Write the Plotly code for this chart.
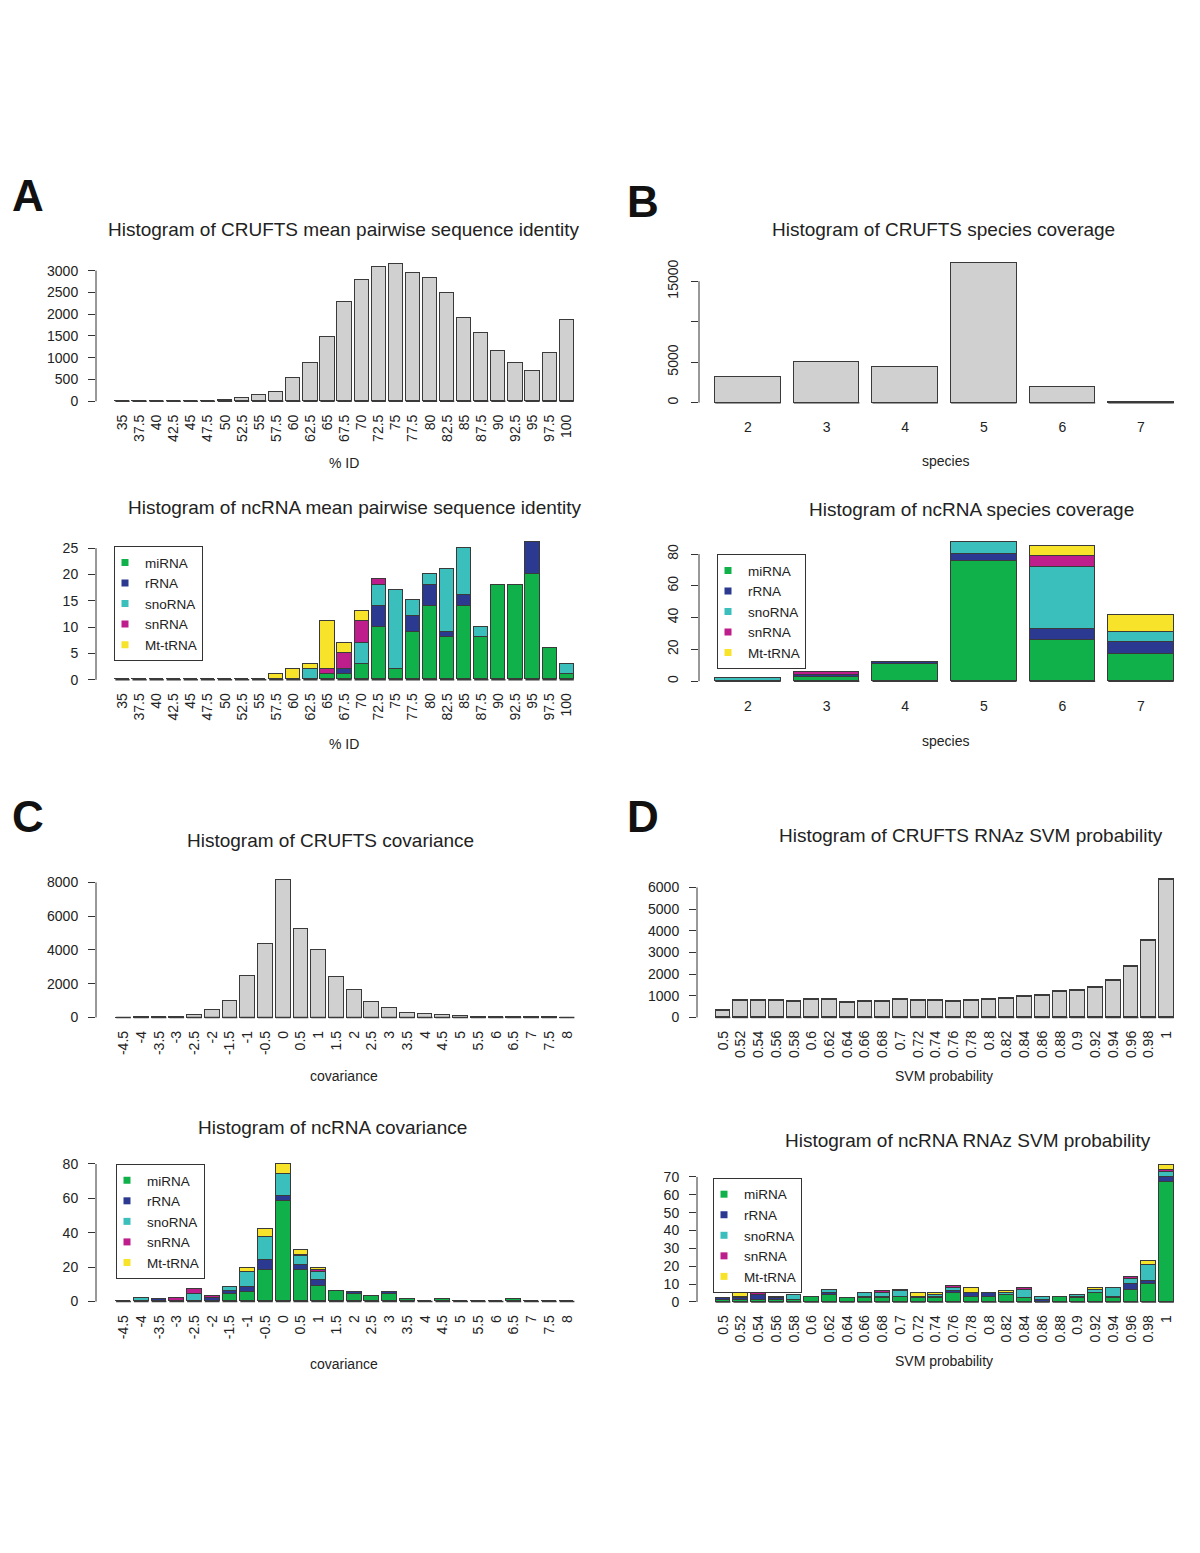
import plotly.graph_objects as go

W, H = 1200, 1553
FONT = "Liberation Sans, Arial, Helvetica, sans-serif"
EDGE = "#3a3a3a"
AXIS = "#333333"
TXT = "#222222"
GRAY = "#d0d0d0"
C_MI = "#10b14b"
C_R = "#2b3990"
C_SNO = "#3bbfbd"
C_SN = "#bd1e8c"
C_MT = "#f7e42a"

# ---------------- data ----------------
identity_labels = ["35", "37.5", "40", "42.5", "45", "47.5", "50", "52.5", "55", "57.5", "60", "62.5",
                   "65", "67.5", "70", "72.5", "75", "77.5", "80", "82.5", "85", "87.5", "90", "92.5",
                   "95", "97.5", "100"]
crufts_identity = [5, 5, 5, 8, 15, 20, 40, 70, 137, 220, 533, 884, 1485, 2285, 2787, 3077, 3168, 2947,
                   2840, 2490, 1926, 1577, 1158, 891, 708, 1120, 1866]
id_miRNA = [0, 0, 0, 0, 0, 0, 0, 0, 0, 0, 0, 0, 1, 1, 3, 10, 2, 9, 14, 8, 14, 8, 18, 18, 20, 6, 1]
id_rRNA = [0, 0, 0, 0, 0, 0, 0, 0, 0, 0, 0, 0, 0, 1, 0, 4, 0, 3, 4, 1, 2, 0, 0, 0, 6, 0, 0]
id_snoRNA = [0, 0, 0, 0, 0, 0, 0, 0, 0, 0, 0, 2, 0, 0, 4, 4, 15, 3, 2, 12, 9, 2, 0, 0, 0, 0, 2]
id_snRNA = [0, 0, 0, 0, 0, 0, 0, 0, 0, 0, 0, 0, 1, 3, 4, 1, 0, 0, 0, 0, 0, 0, 0, 0, 0, 0, 0]
id_MttRNA = [0, 0, 0, 0, 0, 0, 0, 0, 0, 1, 2, 1, 9, 2, 2, 0, 0, 0, 0, 0, 0, 0, 0, 0, 0, 0, 0]

species_labels = ["2", "3", "4", "5", "6", "7"]
crufts_species = [3200, 5000, 4470, 17340, 1930, 160]
sp_miRNA = [0, 3, 11, 76, 26, 17]
sp_rRNA = [0, 1, 1, 4, 7, 8]
sp_snoRNA = [2, 0, 0, 8, 39, 6]
sp_snRNA = [0, 2, 0, 0, 7, 0]
sp_MttRNA = [0, 0, 0, 0, 6, 11]

cov_labels = ["-4.5", "-4", "-3.5", "-3", "-2.5", "-2", "-1.5", "-1", "-0.5", "0", "0.5", "1", "1.5",
              "2", "2.5", "3", "3.5", "4", "4.5", "5", "5.5", "6", "6.5", "7", "7.5", "8"]
crufts_cov = [10, 15, 25, 50, 150, 430, 1000, 2475, 4380, 8190, 5285, 4010, 2435, 1670, 925, 550, 295,
              195, 140, 80, 60, 40, 25, 20, 15, 10]
cov_miRNA = [0, 0, 0, 0, 0, 0, 4, 5, 18, 58, 18, 9, 6, 4, 3, 4, 1, 0, 1, 0, 0, 0, 1, 0, 0, 0]
cov_rRNA = [0, 0, 1, 0, 0, 2, 2, 3, 6, 3, 3, 3, 0, 1, 0, 1, 0, 0, 0, 0, 0, 0, 0, 0, 0, 0]
cov_snoRNA = [0, 2, 0, 0, 4, 0, 2, 9, 13, 13, 5, 5, 0, 0, 0, 0, 0, 0, 0, 0, 0, 0, 0, 0, 0, 0]
cov_snRNA = [0, 0, 0, 2, 3, 1, 0, 0, 0, 0, 1, 1, 0, 0, 0, 0, 0, 0, 0, 0, 0, 0, 0, 0, 0, 0]
cov_MttRNA = [0, 0, 0, 0, 0, 0, 0, 2, 5, 6, 3, 1, 0, 0, 0, 0, 0, 0, 0, 0, 0, 0, 0, 0, 0, 0]

svm_labels = ["0.5", "0.52", "0.54", "0.56", "0.58", "0.6", "0.62", "0.64", "0.66", "0.68", "0.7",
              "0.72", "0.74", "0.76", "0.78", "0.8", "0.82", "0.84", "0.86", "0.88", "0.9", "0.92",
              "0.94", "0.96", "0.98", "1"]
crufts_svm = [340, 796, 765, 780, 750, 810, 810, 690, 750, 750, 810, 796, 796, 720, 796, 842, 888, 950,
              995, 1180, 1255, 1394, 1715, 2328, 3568, 6386]
svm_miRNA = [1, 1, 1, 1, 1, 3, 4, 2, 2, 2, 3, 2, 2, 5, 3, 3, 4, 2, 0, 3, 2, 5, 2, 7, 10, 67]
svm_rRNA = [1, 1, 3, 1, 0, 0, 1, 0, 1, 1, 0, 1, 1, 1, 2, 2, 0, 0, 1, 0, 1, 0, 1, 3, 2, 3]
svm_snoRNA = [0, 1, 0, 0, 3, 0, 2, 0, 2, 2, 3, 0, 1, 2, 0, 0, 1, 5, 2, 0, 1, 2, 5, 3, 9, 3]
svm_snRNA = [0, 0, 1, 0, 0, 0, 0, 0, 0, 1, 0, 0, 0, 1, 0, 0, 0, 1, 0, 0, 0, 0, 0, 1, 0, 1]
svm_MttRNA = [0, 2, 0, 1, 0, 0, 0, 0, 0, 0, 1, 2, 1, 0, 3, 0, 1, 0, 0, 0, 0, 1, 0, 0, 2, 3]

type_names = ["miRNA", "rRNA", "snoRNA", "snRNA", "Mt-tRNA"]
type_colors = [C_MI, C_R, C_SNO, C_SN, C_MT]

# ---------------- panel layout (pixel geometry) ----------------
panels = [
    dict(labels=identity_labels, series=[crufts_identity], xang=-90,
         cf=122.5, cl=566.7, ax=96, y0=400.3, vt=3000, vtp=269, yt=[0, 500, 1000, 1500, 2000, 2500, 3000],
         title="Histogram of CRUFTS mean pairwise sequence identity", tx=343, ty=228,
         xt="% ID", xtx=344, xty=462, so=7),
    dict(labels=identity_labels, series=[id_miRNA, id_rRNA, id_snoRNA, id_snRNA, id_MttRNA], xang=-90,
         cf=122.5, cl=566.7, ax=96, y0=680.3, vt=25, vtp=548, yt=[0, 5, 10, 15, 20, 25],
         title="Histogram of ncRNA mean pairwise sequence identity", tx=355, ty=507,
         xt="% ID", xtx=344, xty=745, so=7, leg=(114, 546)),
    dict(labels=species_labels, series=[crufts_species], xang=0,
         cf=748, cl=1141, ax=699, y0=401.7, vt=15000, vtp=279.7, yt=[0, 5000, 10000, 15000],
         ytext=["0", "5000", "", "15000"], yang=-90,
         title="Histogram of CRUFTS species coverage", tx=943, ty=228,
         xt="species", xtx=945, xty=460, so=12),
    dict(labels=species_labels, series=[sp_miRNA, sp_rRNA, sp_snoRNA, sp_snRNA, sp_MttRNA], xang=0,
         cf=748, cl=1141, ax=699, y0=681.7, vt=80, vtp=554, yt=[0, 20, 40, 60, 80], yang=-90,
         title="Histogram of ncRNA species coverage", tx=971, ty=509,
         xt="species", xtx=945, xty=742, so=12, leg=(717, 554)),
    dict(labels=cov_labels, series=[crufts_cov], xang=-90,
         cf=123.5, cl=567, ax=96, y0=1019.7, vt=8000, vtp=884, yt=[0, 2000, 4000, 6000, 8000],
         title="Histogram of CRUFTS covariance", tx=330, ty=842,
         xt="covariance", xtx=344, xty=1079, so=7),
    dict(labels=cov_labels, series=[cov_miRNA, cov_rRNA, cov_snoRNA, cov_snRNA, cov_MttRNA], xang=-90,
         cf=123.5, cl=567, ax=96, y0=1305.3, vt=80, vtp=1167, yt=[0, 20, 40, 60, 80],
         title="Histogram of ncRNA covariance", tx=332, ty=1130,
         xt="covariance", xtx=344, xty=1368, so=7, leg=(116, 1167)),
    dict(labels=svm_labels, series=[crufts_svm], xang=-90,
         cf=723, cl=1166.5, ax=697, y0=1019.7, vt=6000, vtp=889,
         yt=[0, 1000, 2000, 3000, 4000, 5000, 6000],
         title="Histogram of CRUFTS RNAz SVM probability", tx=971, ty=837,
         xt="SVM probability", xtx=944, xty=1079, so=7),
    dict(labels=svm_labels, series=[svm_miRNA, svm_rRNA, svm_snoRNA, svm_snRNA, svm_MttRNA], xang=-90,
         cf=723, cl=1166.5, ax=697, y0=1305.7, vt=70, vtp=1180, yt=[0, 10, 20, 30, 40, 50, 60, 70],
         title="Histogram of ncRNA RNAz SVM probability", tx=968, ty=1143,
         xt="SVM probability", xtx=944, xty=1365, so=7, leg=(713, 1181)),
]

letters = [("A", 28, 193), ("B", 643, 200), ("C", 28, 818), ("D", 643, 818)]

fig = go.Figure()
layout = dict(width=W, height=H, margin=dict(l=0, r=0, t=0, b=0), paper_bgcolor="white",
              plot_bgcolor="white", barmode="stack", bargap=0, showlegend=True,
              font=dict(family=FONT, color=TXT), annotations=[], shapes=[])

BW = 1 / 1.2
leg_count = 0
for k, p in enumerate(panels, start=1):
    xn = "x" if k == 1 else f"x{k}"
    yn = "y" if k == 1 else f"y{k}"
    n = len(p["labels"])
    step = (p["cl"] - p["cf"]) / (n - 1)
    a = (p["ax"] - p["cf"]) / step
    b = (n - 1) - a
    xdom = [p["ax"] / W, (p["cf"] + b * step) / W]
    s = (p["y0"] - p["vtp"]) / p["vt"]
    totals = [sum(v) for v in zip(*p["series"])]
    ymax = max(totals) * 1.04
    ymin = -0.02 * p["vt"]
    ytop_px = p["y0"] - ymax * s
    ybot_px = p["y0"] - ymin * s
    ydom = [1 - ybot_px / H, 1 - ytop_px / H]

    stacked = len(p["series"]) > 1
    legid = None
    if stacked:
        leg_count += 1
        legid = "legend" if leg_count == 1 else f"legend{leg_count}"
    for j, vals in enumerate(p["series"]):
        col = type_colors[j] if stacked else GRAY
        fig.add_trace(go.Bar(x=list(range(n)), y=vals, width=BW, xaxis=xn, yaxis=yn,
                             marker=dict(color=col, line=dict(color=EDGE, width=1.2)),
                             showlegend=False, hoverinfo="skip"))
    # bar baselines (R draws empty bins as flat outlines)
    bx, by = [], []
    for i in range(n):
        bx += [i - BW / 2, i + BW / 2, None]
        by += [0, 0, None]
    fig.add_trace(go.Scatter(x=bx, y=by, mode="lines", xaxis=xn, yaxis=yn,
                             line=dict(color=EDGE, width=1.5), showlegend=False, hoverinfo="skip"))
    if stacked:
        for name, col in zip(type_names, type_colors):
            fig.add_trace(go.Scatter(x=[None], y=[None], mode="markers", name=name, xaxis=xn, yaxis=yn,
                                     marker=dict(symbol="square", size=7, color=col),
                                     legend=legid, showlegend=True))
        lx, ly = p["leg"]
        layout[legid] = dict(x=lx / W, y=1 - ly / H, xanchor="left", yanchor="top",
                             bordercolor=AXIS, borderwidth=1, bgcolor="white",
                             font=dict(size=13.5, color=TXT, family=FONT), itemwidth=30,
                             indentation=-10, traceorder="normal", tracegroupgap=0)

    xkey = "xaxis" if k == 1 else f"xaxis{k}"
    ykey = "yaxis" if k == 1 else f"yaxis{k}"
    layout[xkey] = dict(domain=xdom, range=[a, b], anchor=yn, tickmode="array",
                        tickvals=list(range(n)), ticktext=p["labels"], tickangle=p["xang"],
                        ticks="", showline=False, showgrid=False, zeroline=False,
                        tickfont=dict(size=14, color=TXT, family=FONT), ticklabelstandoff=p["so"])
    layout[ykey] = dict(domain=ydom, range=[ymin, ymax], anchor=xn, tickmode="array",
                        tickvals=p["yt"], ticktext=p.get("ytext", [str(v) for v in p["yt"]]),
                        tickangle=p.get("yang", 0), ticks="outside", ticklen=7, tickwidth=1,
                        tickcolor=AXIS, showline=False, showgrid=False, zeroline=False,
                        tickfont=dict(size=14, color=TXT, family=FONT), ticklabelstandoff=7)
    layout["shapes"].append(dict(type="line", xref=f"{xn} domain", yref=yn, x0=0, x1=0,
                                 y0=0, y1=p["yt"][-1], line=dict(color=AXIS, width=1)))
    layout["annotations"].append(dict(text=p["title"], xref="paper", yref="paper",
                                      x=p["tx"] / W, y=1 - p["ty"] / H, xanchor="center",
                                      yanchor="middle", showarrow=False,
                                      font=dict(size=19, color=TXT, family=FONT)))
    layout["annotations"].append(dict(text=p["xt"], xref="paper", yref="paper",
                                      x=p["xtx"] / W, y=1 - p["xty"] / H, xanchor="center",
                                      yanchor="middle", showarrow=False,
                                      font=dict(size=14, color=TXT, family=FONT)))

for t, x, y in letters:
    layout["annotations"].append(dict(text=t, xref="paper", yref="paper", x=x / W, y=1 - y / H,
                                      xanchor="center", yanchor="middle", showarrow=False,
                                      font=dict(size=44, color="#111111", family=FONT, weight="bold")))

fig.update_layout(**layout)
fig.write_html("out.html", config={"displayModeBar": False},
               post_script="document.body.style.margin='0';document.body.style.overflow='hidden';")
